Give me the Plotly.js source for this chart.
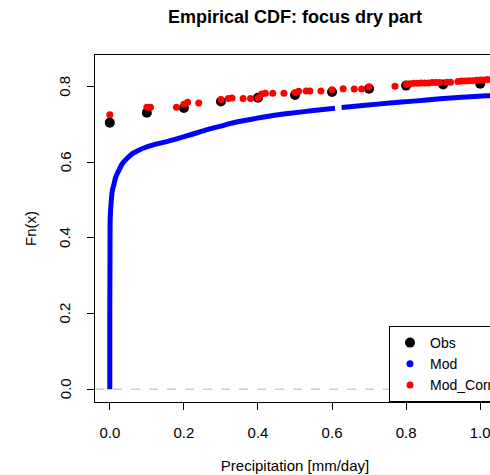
<!DOCTYPE html>
<html>
<head>
<meta charset="utf-8">
<script src="https://cdn.plot.ly/plotly-3.0.1.min.js"></script>
<style>
html,body{margin:0;padding:0;overflow:hidden;background:#fff;}
#chart{width:530px;height:475px;}
</style>
</head>
<body>
<div id="chart"></div>
<script>
// Observed ECDF (values recorded at 0.1 mm steps)
const obsX = [0.0, 0.1, 0.2, 0.3, 0.4, 0.5, 0.6, 0.7, 0.8, 0.9, 1.0];
const obsY = [0.705, 0.731, 0.744, 0.761, 0.771, 0.778, 0.786, 0.795, 0.803, 0.806, 0.808];

// Model ECDF (null marks the visible gap)
const modX = [0.0, 0.0, 0.0005, 0.001, 0.004, 0.007, 0.012, 0.016, 0.025, 0.034, 0.047, 0.061, 0.078, 0.097, 0.12, 0.142, 0.165, 0.187, 0.218, 0.245, 0.272, 0.30, 0.326, 0.36, 0.398, 0.44, 0.487, 0.55, 0.608, null, 0.626, 0.69, 0.756, 0.82, 0.891, 0.95, 1.017, 1.04];
const modY = [0.0, 0.20, 0.35, 0.45, 0.50, 0.526, 0.545, 0.561, 0.580, 0.597, 0.611, 0.623, 0.632, 0.640, 0.647, 0.652, 0.658, 0.664, 0.673, 0.681, 0.689, 0.696, 0.703, 0.710, 0.717, 0.724, 0.730, 0.737, 0.743, null, 0.745, 0.751, 0.757, 0.762, 0.768, 0.772, 0.776, 0.777];

// Corrected model ECDF
const corrX = [0.0, 0.10, 0.11, 0.18, 0.20, 0.21, 0.24, 0.30, 0.32, 0.33, 0.36, 0.38, 0.40, 0.41, 0.42, 0.44, 0.47, 0.50, 0.51, 0.53, 0.54, 0.57, 0.60, 0.63, 0.66, 0.68, 0.70, 0.77,
               0.80, 0.81, 0.82, 0.83, 0.84, 0.85, 0.86, 0.87, 0.88, 0.89, 0.91, 0.92, 0.94, 0.95, 0.96, 0.97, 0.98, 0.99, 1.00, 1.01, 1.02];
const corrY = [0.726, 0.746, 0.746, 0.746, 0.754, 0.759, 0.757, 0.766, 0.769, 0.770, 0.769, 0.769, 0.770, 0.781, 0.783, 0.783, 0.783, 0.785, 0.788, 0.789, 0.789, 0.789, 0.792, 0.795, 0.794, 0.794, 0.800, 0.801,
               0.806, 0.808, 0.809, 0.809, 0.810, 0.810, 0.810, 0.811, 0.811, 0.811, 0.812, 0.812, 0.814, 0.815, 0.815, 0.816, 0.816, 0.817, 0.818, 0.818, 0.819];

const xTicks = [0.0, 0.2, 0.4, 0.6, 0.8, 1.0];
const xTickText = ["0.0", "0.2", "0.4", "0.6", "0.8", "1.0"];
const yTicks = [0.0, 0.2, 0.4, 0.6, 0.8];
const yTickText = ["0.0", "0.2", "0.4", "0.6", "0.8"];
const refLines = [0, 1];

const FONT = 'Liberation Sans, Arial, sans-serif';

const traces = [
  {x: obsX, y: obsY, type: 'scatter', mode: 'markers', name: 'Obs',
   marker: {color: '#000000', size: 10}},
  {x: modX, y: modY, type: 'scatter', mode: 'lines', name: 'Mod', showlegend: false,
   connectgaps: false, line: {color: '#0000ff', width: 5, shape: 'spline', smoothing: 0.5}, legendgroup: 'mod'},
  {x: [null], y: [null], type: 'scatter', mode: 'markers', name: 'Mod',
   marker: {color: '#0000ff', size: 7}, legendgroup: 'mod'},
  {x: corrX, y: corrY, type: 'scatter', mode: 'markers', name: 'Mod_Corr',
   marker: {color: '#ff0000', size: 7}}
];

// rotated y tick labels placed at the y-axis tick values
const yLabelAnn = yTicks.map((v, i) => ({
  xref: 'paper', x: -0.075, xanchor: 'center', yref: 'y', y: v, yanchor: 'middle',
  text: yTickText[i], textangle: -90, showarrow: false,
  font: {family: FONT, size: 15, color: '#000'}
}));

const layout = {
  width: 530, height: 475,
  margin: {l: 95, r: 35, t: 55, b: 73},
  paper_bgcolor: '#ffffff', plot_bgcolor: '#ffffff',
  font: {family: FONT, size: 15, color: '#000000'},
  title: {text: '<b>Empirical CDF: focus dry part</b>', font: {family: FONT, size: 18, color: '#000'},
          x: 0.5566, xanchor: 'center', y: 0.964, yanchor: 'middle'},
  showlegend: true,
  legend: {x: 0.735, xanchor: 'left', y: 0, yanchor: 'bottom', bgcolor: '#ffffff',
           bordercolor: '#000000', borderwidth: 1, font: {family: FONT, size: 14},
           itemsizing: 'trace', itemwidth: 30, tracegroupgap: 0},
  xaxis: {range: [-0.04, 1.04], tickvals: xTicks, ticktext: xTickText, showgrid: false, zeroline: false,
          showline: true, mirror: true, linecolor: '#000', linewidth: 1,
          ticks: 'outside', ticklen: 7, tickcolor: '#000', ticklabelstandoff: 10,
          title: {text: 'Precipitation [mm/day]', standoff: 20, font: {family: FONT, size: 15}}},
  yaxis: {range: [-0.034, 0.884], tickvals: yTicks, showticklabels: false, showgrid: false, zeroline: false,
          showline: true, mirror: true, linecolor: '#000', linewidth: 1,
          ticks: 'outside', ticklen: 7, tickcolor: '#000',
          title: {text: 'Fn(x)', standoff: 46, font: {family: FONT, size: 15}}},
  annotations: yLabelAnn,
  shapes: refLines.map(v => ({type: 'line', xref: 'paper', x0: 0, x1: 1, yref: 'y', y0: v, y1: v,
                              line: {color: '#b3b3b3', width: 1, dash: 'dash'}, layer: 'below'}))
};

Plotly.newPlot('chart', traces, layout, {displayModeBar: false, staticPlot: true});
</script>
</body>
</html>
